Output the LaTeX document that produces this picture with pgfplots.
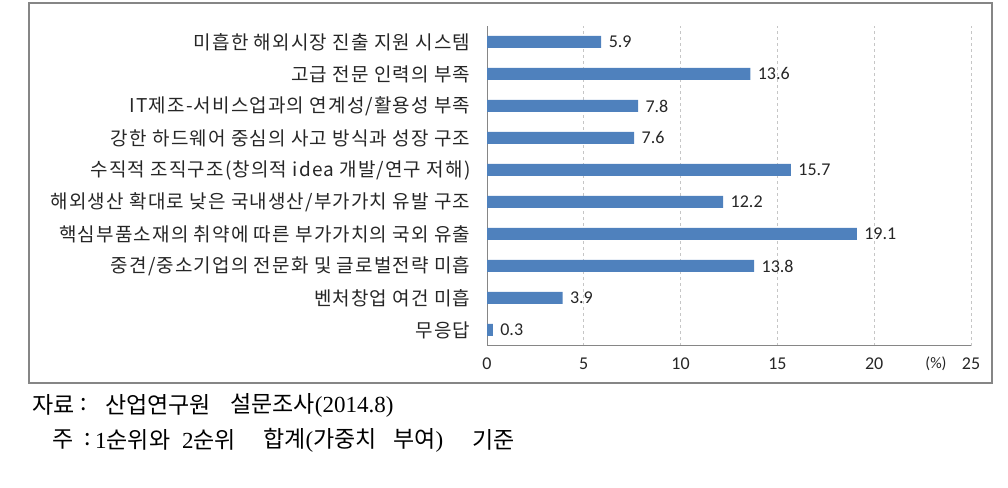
\documentclass[border=0pt]{standalone}
\usepackage{fontspec}
\usepackage{pgfplots}
\pgfplotsset{compat=1.18}
\setmainfont{Carlito}
\newfontfamily\kr[LetterSpace=6]{Noto Sans CJK KR}
\newfontfamily\krn{Noto Sans CJK KR}
\newfontfamily\ser{Liberation Serif}
\definecolor{barblue}{HTML}{4F81BD}
\definecolor{axgray}{HTML}{868686}
\definecolor{txt}{HTML}{262626}
\begin{document}
\begin{tikzpicture}[x=1pt,y=1pt]
\path[use as bounding box] (0,0) rectangle (1008,487);
\draw[color=axgray, line width=1.3pt] (29,484) rectangle (992,104);
\begin{axis}[
  at={(487pt,141pt)}, anchor=south west,
  scale only axis, width=484pt, height=320pt,
  xbar, bar width=12pt,
  xmin=0, xmax=25, ymin=-0.5, ymax=9.5,
  ytick={0,...,9},
  yticklabels={무응답, 벤처창업 여건 미흡, 중견/중소기업의 전문화 및 글로벌전략 미흡, 핵심부품소재의 취약에 따른 부가가치의 국외 유출, 해외생산 확대로 낮은 국내생산/부가가치 유발 구조, 수직적 조직구조(창의적 idea 개발/연구 저해), 강한 하드웨어 중심의 사고 방식과 성장 구조, IT제조-서비스업과의 연계성/활용성 부족, 고급 전문 인력의 부족, 미흡한 해외시장 진출 지원 시스템},
  xtick={0,5,...,25},
  axis lines*=left,
  axis line style={axgray, line width=1pt},
  xmajorgrids, grid style={dashed, gray!45, line width=0.8pt},
  major tick length=0pt,
  yticklabel style={font=\kr\fontsize{19}{21}\selectfont, text=txt, xshift=-13pt},
  xticklabel style={font=\fontsize{18}{20}\selectfont, text=txt, yshift=-8pt},
  /pgf/number format/assume math mode=true,
  nodes near coords={\pgfmathprintnumber[fixed,fixed zerofill,precision=1,assume math mode=true]{\pgfplotspointmeta}},
  nodes near coords style={font=\fontsize{18}{20}\selectfont, text=txt, xshift=4pt},
  clip=false,
]
\addplot[fill=barblue, draw=none] coordinates {
(0.3,0) (3.9,1) (13.8,2) (19.1,3) (12.2,4) (15.7,5) (7.6,6) (7.8,7) (13.6,8) (5.9,9)};
\end{axis}
\node[font=\fontsize{16}{18}\selectfont, text=txt] at (936,123) {(\%)};
\begin{scope}[every node/.style={anchor=west, inner sep=0pt, font=\krn\fontsize{23}{25}\selectfont, text=black}]
\node at (32,82) {자료};
\node at (80,82) {:};
\node at (105,82) {산업연구원};
\node at (230,82) {설문조사{\ser(2014.8)}};
\node at (52,47) {주};
\node at (84,47) {:};
\node at (95,47) {{\ser 1}순위와};
\node at (182,47) {{\ser 2}순위};
\node at (263,47) {합계{\ser(}가중치};
\node at (393,47) {부여{\ser)}};
\node at (472,47) {기준};
\end{scope}
\end{tikzpicture}
\end{document}
